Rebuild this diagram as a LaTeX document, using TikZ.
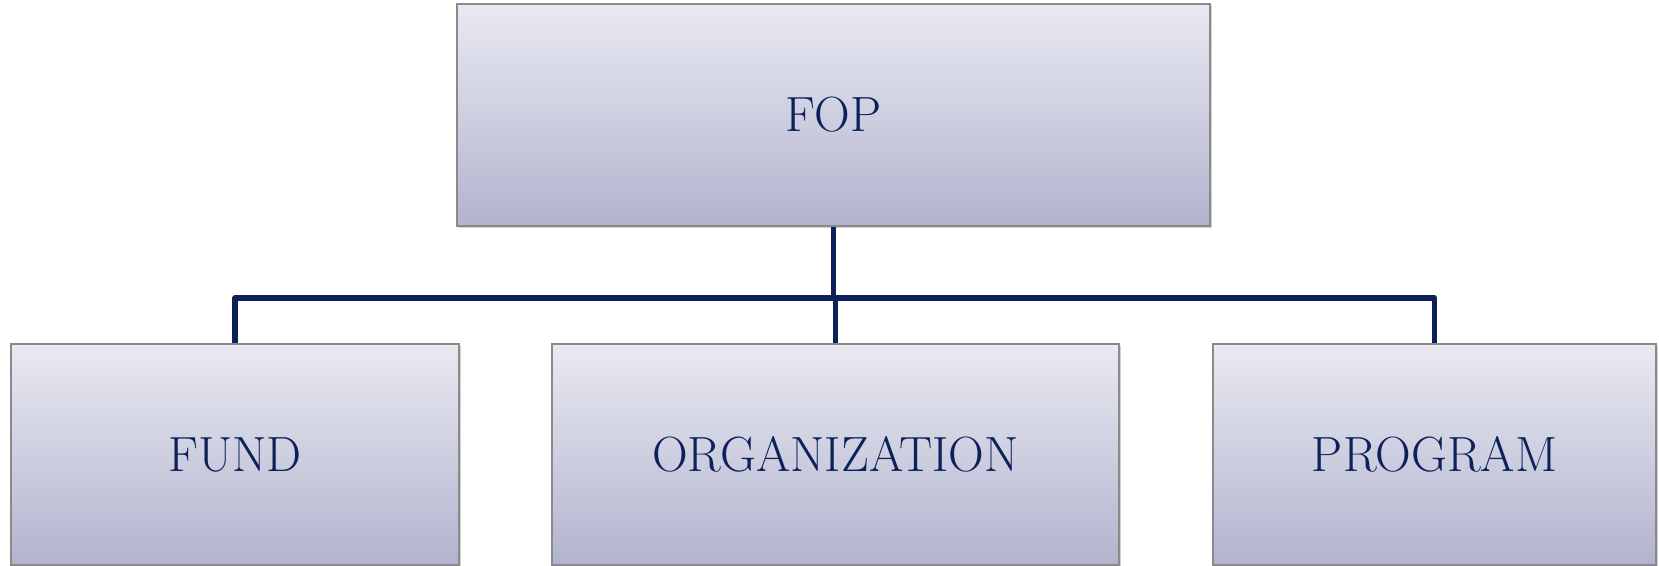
\documentclass[tikz,border=0pt]{standalone}
\usetikzlibrary{shadows}
\definecolor{navy}{HTML}{0B2158}
\definecolor{boxtop}{HTML}{E9E9F2}
\definecolor{boxbot}{HTML}{B2B4CE}
\definecolor{boxedge}{HTML}{8A8A8A}
\begin{document}
\begin{tikzpicture}[x=1bp,y=1bp,
  unit/.style={rectangle, inner sep=0pt, top color=boxtop, bottom color=boxbot,
    draw=boxedge, line width=1.1bp, text=navy,
    font=\fontsize{49.5bp}{54bp}\selectfont,
    drop shadow={opacity=0.35, shadow xshift=1.5bp, shadow yshift=-2.5bp}},
  link/.style={draw=navy, line width=5.2bp, line join=round}]
\useasboundingbox (0,0) rectangle (1659,566);
\fill[white] (0,0) rectangle (1659,566);
% top-level box and its three parts
\node[unit, minimum width=753bp, minimum height=222bp] (fop)  at (833.5,451) {FOP};
\node[unit, minimum width=448bp, minimum height=221bp] (fund) at (235,111.5) {FUND};
\node[unit, minimum width=567bp, minimum height=221bp] (org)  at (835.5,111.5) {ORGANIZATION};
\node[unit, minimum width=443bp, minimum height=221bp] (prog) at (1434.5,111.5) {PROGRAM};
% connector bus
\coordinate (bus) at (835,268);
\draw[link] (fund.north) -- (fund.north |- bus) -- (prog.north |- bus) -- (prog.north);
\draw[link] (fop.south) -- (fop.south |- bus);
\draw[link] (org.north) -- (org.north |- bus);
\end{tikzpicture}
\end{document}
